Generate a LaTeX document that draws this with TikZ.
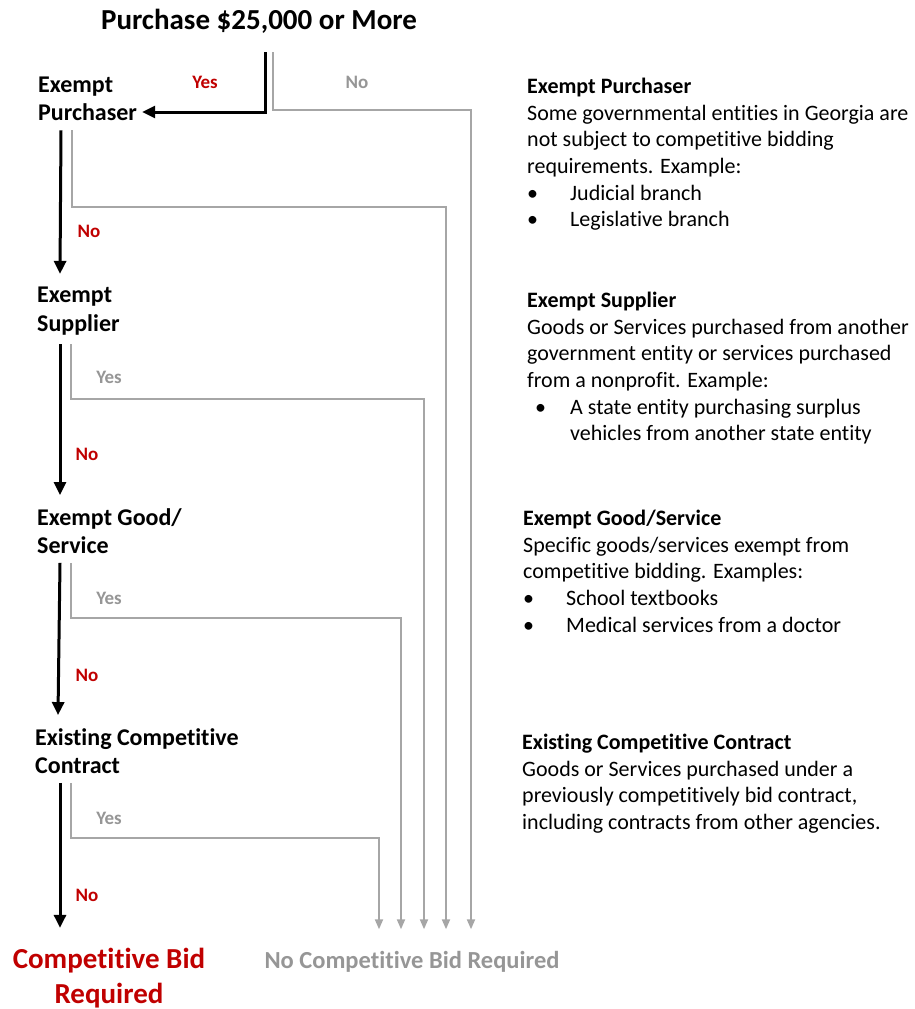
\documentclass[tikz,border=0pt]{standalone}
\usepackage{fontspec}
\setmainfont{Carlito}[Ligatures=NoCommon]
\usepackage{xcolor}
\usetikzlibrary{arrows.meta,positioning}

\definecolor{bidred}{RGB}{192,0,0}
\definecolor{linegray}{RGB}{166,166,166}
\definecolor{labelgray}{RGB}{150,150,150}

\newcommand{\bulletrow}[2]{\hspace*{#1}\makebox[43pt][l]{\textbullet}#2}

\begin{document}
\begin{tikzpicture}[
    x=1pt, y=-1pt,
    decision/.style={anchor=west, inner sep=0pt, align=left,
        font=\fontsize{24}{28.5}\selectfont\bfseries},
    smalllbl/.style={inner sep=0pt, font=\fontsize{19}{21}\selectfont\bfseries},
    redlbl/.style={smalllbl, text=bidred},
    graylbl/.style={smalllbl, text=labelgray},
    notebox/.style={anchor=north west, inner sep=0pt, align=left,
        font=\fontsize{22}{26.6}\selectfont},
    mainpath/.style={line width=3pt, -{Triangle[length=13pt,width=12pt]}},
    sidepath/.style={draw=linegray, line width=2pt,
        -{Triangle[length=10pt,width=8pt]}}
]

\useasboundingbox (0,0) rectangle (915,1009);

% Title
\node[inner sep=0pt, font=\fontsize{29}{32}\selectfont\bfseries]
    (start) at (259,21) {Purchase \$25,000 or More};

% Decisions
\node[decision] (purch) at (38,99)  {Exempt\\Purchaser};
\node[decision] (supp)  at (37,311) {Exempt\\Supplier};
\node[decision] (good)  at (37,531) {Exempt Good/\\Service};
\node[decision] (cont)  at (35,751) {Existing Competitive\\Contract};

% Outcomes
\node[inner sep=0pt, align=center, text=bidred,
    font=\fontsize{29}{35}\selectfont\bfseries]
    (bid) at (109,978) {Competitive Bid\\Required};
\node[inner sep=0pt, text=labelgray,
    font=\fontsize{24.5}{28}\selectfont\bfseries]
    (nobid) at (412,962) {No Competitive Bid Required};
\coordinate (tiprow) at ([yshift=22pt]nobid.north);

% Branch start points
\coordinate (t0) at (265,52);
\coordinate (g0) at (273,52);

% Black path
\draw[mainpath] (t0) |- ([shift={(5,13)}]purch.east);
\draw[mainpath] ([shift={(23,9)}]purch.south west) -- ([shift={(23,-13)}]supp.north west);
\draw[mainpath] ([shift={(23,9)}]supp.south west) -- ([shift={(23,-13)}]good.north west);
\draw[mainpath] ([shift={(23,9)}]good.south west) -- ([shift={(23,-13)}]cont.north west);
\draw[mainpath] ([shift={(25,9)}]cont.south west) -- ([shift={(-49,-20)}]bid.north);

% Grey paths
\draw[sidepath] (g0) |- (471,110) -- (471,0 |- tiprow);
\draw[sidepath] ([shift={(34,9)}]purch.south west) |- (446,207) -- (446,0 |- tiprow);
\draw[sidepath] ([shift={(34,9)}]supp.south west) |- (424,399) -- (424,0 |- tiprow);
\draw[sidepath] ([shift={(34,9)}]good.south west) |- (401,618) -- (401,0 |- tiprow);
\draw[sidepath] ([shift={(36,9)}]cont.south west) |- (379,838) -- (379,0 |- tiprow);

% Yes/No labels
\node[redlbl]  (yes0) at (205,82)  {Yes};
\node[graylbl] (no0)  at (357,82)  {No};
\node[redlbl]  (no1)  at (89,231)  {No};
\node[graylbl] (yes2) at (109,377) {Yes};
\node[redlbl]  (no2)  at (87,454)  {No};
\node[graylbl] (yes3) at (109,598) {Yes};
\node[redlbl]  (no3)  at (87,675)  {No};
\node[graylbl] (yes4) at (109,818) {Yes};
\node[redlbl]  (no4)  at (87,895)  {No};

% Notes
\node[notebox] (notepurch) at (527,78) {\textbf{Exempt Purchaser}\\
    Some governmental entities in Georgia are\\
    not subject to competitive bidding\\
    requirements. Example:\\
    \bulletrow{0pt}{Judicial branch}\\
    \bulletrow{0pt}{Legislative branch}};
\node[notebox] (notesupp) at (527,292) {\textbf{Exempt Supplier}\\
    Goods or Services purchased from another\\
    government entity or services purchased\\
    from a nonprofit. Example:\\
    \hspace*{8pt}\makebox[35pt][l]{\textbullet}A state entity purchasing surplus\\
    \hspace*{43pt}vehicles from another state entity};
\node[notebox] (notegood) at (523,510) {\textbf{Exempt Good/Service}\\
    Specific goods/services exempt from\\
    competitive bidding. Examples:\\
    \bulletrow{0pt}{School textbooks}\\
    \bulletrow{0pt}{Medical services from a doctor}};
\node[notebox] (notecont) at (522,734) {\textbf{Existing Competitive Contract}\\
    Goods or Services purchased under a\\
    previously competitively bid contract,\\
    including contracts from other agencies.};
\end{tikzpicture}
\end{document}
